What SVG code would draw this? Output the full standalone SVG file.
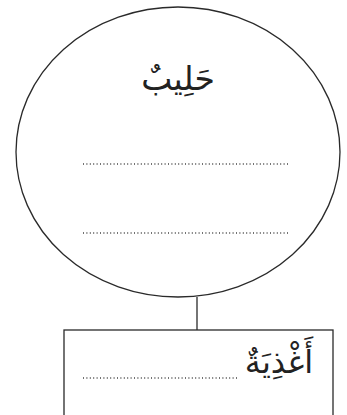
<svg xmlns="http://www.w3.org/2000/svg" width="347" height="415" viewBox="0 0 347 415">
<style>
.shape{fill:none;stroke:#2a2a2a;stroke-width:1.3}
.dots{fill:none;stroke:#444;stroke-width:1.6;stroke-dasharray:1 2.4}
.ar{font-family:"DejaVu Sans",sans-serif;fill:#222;text-anchor:middle}
</style>
<rect width="347" height="415" fill="#fff"/>
<g id="connectors">
<line class="shape" x1="197" y1="297" x2="197" y2="330"/>
</g>
<g id="node-milk">
<ellipse class="shape" cx="178" cy="152" rx="162" ry="145"/>
<text class="ar" x="178" y="90" font-size="33" direction="rtl">حَلِيبٌ</text>
<line class="dots" x1="83" y1="164" x2="288" y2="164"/>
<line class="dots" x1="83" y1="233" x2="288" y2="233"/>
</g>
<g id="node-food">
<rect class="shape" x="64" y="330" width="269" height="95"/>
<text class="ar" x="279" y="373" font-size="32" direction="rtl">أَغْذِيَةٌ</text>
<line class="dots" x1="83" y1="378" x2="238" y2="378"/>
</g>
</svg>
